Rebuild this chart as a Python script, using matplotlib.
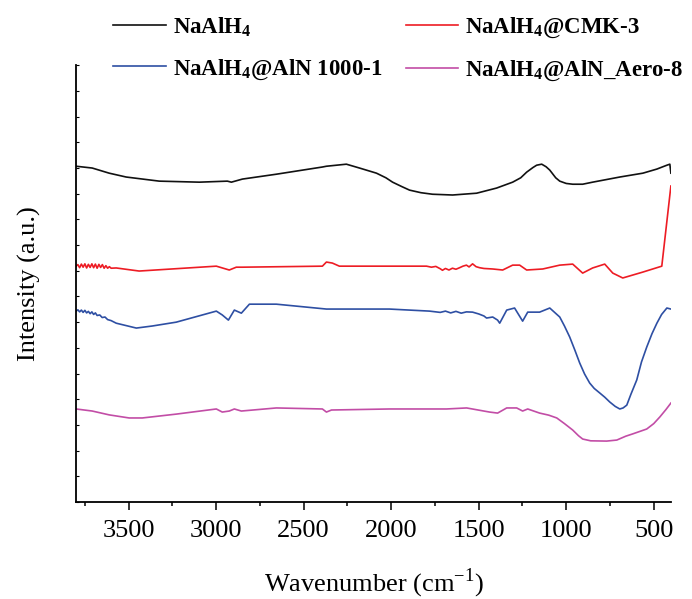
import numpy as np
import matplotlib
matplotlib.use("Agg")
import matplotlib.pyplot as plt
from matplotlib.ticker import MultipleLocator

# FTIR spectra, values (intensity in a.u., offset per trace)
wn_naalh4 = [3800, 3708, 3611, 3514, 3325, 3096, 2936, 2913, 2850, 2656, 2393, 2370,
             2256, 2181, 2084, 2030, 1992, 1940, 1895, 1830, 1764, 1649, 1512, 1398,
             1306, 1260, 1226, 1190, 1169, 1140, 1115, 1094, 1060, 1037, 1000, 963,
             906, 849, 694, 562, 482, 425, 408, 402]
int_naalh4 = [13.07, 13.00, 12.80, 12.65, 12.49, 12.45, 12.49, 12.45, 12.57, 12.76,
              13.04, 13.07, 13.15, 13.00, 12.80, 12.62, 12.45, 12.28, 12.14, 12.04,
              11.98, 11.95, 12.02, 12.22, 12.45, 12.62, 12.84, 13.02, 13.11, 13.15,
              13.05, 12.92, 12.62, 12.49, 12.40, 12.37, 12.37, 12.45, 12.65, 12.80,
              12.96, 13.11, 13.15, 12.80]

wn_cmk3 = [3800, 3790, 3780, 3770, 3760, 3750, 3740, 3730, 3720, 3710, 3700, 3690,
           3680, 3670, 3660, 3650, 3640, 3630, 3620, 3610, 3600, 3571, 3440, 2999,
           2925, 2885, 2850, 2393, 2370, 2336, 2296, 1798, 1770, 1745, 1720, 1707,
           1690, 1670, 1650, 1630, 1609, 1590, 1570, 1555, 1535, 1515, 1495, 1470,
           1420, 1363, 1306, 1266, 1226, 1134, 1037, 963, 906, 849, 780, 734, 677,
           562, 454, 402]
int_cmk3 = [9.18, 9.24, 9.12, 9.26, 9.14, 9.27, 9.11, 9.25, 9.13, 9.27, 9.12, 9.26,
            9.10, 9.25, 9.13, 9.24, 9.10, 9.20, 9.10, 9.16, 9.10, 9.11, 8.99, 9.18,
            9.03, 9.14, 9.14, 9.18, 9.34, 9.30, 9.18, 9.18, 9.14, 9.17, 9.08, 9.02,
            9.09, 9.03, 9.10, 9.06, 9.12, 9.18, 9.22, 9.15, 9.27, 9.16, 9.12, 9.09,
            9.07, 9.03, 9.22, 9.22, 9.03, 9.07, 9.22, 9.26, 8.91, 9.11, 9.26, 8.91,
            8.72, 8.95, 9.18, 12.30]

wn_aln1000 = [3800, 3790, 3780, 3770, 3760, 3750, 3740, 3730, 3720, 3710, 3700, 3690,
              3680, 3665, 3651, 3635, 3620, 3600, 3571, 3456, 3365, 3228, 2999, 2965,
              2930, 2896, 2856, 2810, 2656, 2370, 2010, 1781, 1720, 1690, 1660, 1630,
              1600, 1570, 1535, 1500, 1470, 1455, 1420, 1392, 1380, 1340, 1295, 1249,
              1220, 1152, 1094, 1037, 1010, 980, 950, 923, 895, 866, 840, 808, 780,
              751, 720, 694, 675, 654, 630, 597, 570, 540, 510, 482, 455, 425, 402]
int_aln1000 = [7.43, 7.48, 7.40, 7.47, 7.38, 7.46, 7.36, 7.42, 7.33, 7.40, 7.30, 7.36,
               7.26, 7.28, 7.18, 7.20, 7.10, 7.06, 6.96, 6.77, 6.85, 7.00, 7.43, 7.28,
               7.08, 7.47, 7.35, 7.70, 7.70, 7.51, 7.51, 7.43, 7.38, 7.43, 7.36, 7.42,
               7.35, 7.40, 7.39, 7.32, 7.24, 7.16, 7.20, 7.08, 6.96, 7.47, 7.55, 7.04,
               7.39, 7.39, 7.55, 7.20, 6.85, 6.42, 5.90, 5.41, 4.98, 4.63, 4.42, 4.24,
               4.08, 3.89, 3.72, 3.62, 3.66, 3.77, 4.20, 4.75, 5.45, 6.03, 6.55, 6.96,
               7.30, 7.55, 7.51]

wn_aero8 = [3800, 3708, 3611, 3497, 3422, 3228, 2999, 2965, 2925, 2896, 2856, 2656,
            2393, 2370, 2341, 2010, 1684, 1569, 1438, 1392, 1340, 1283, 1249, 1220,
            1152, 1100, 1054, 1010, 963, 930, 906, 860, 769, 711, 660, 620, 540, 500,
            465, 430, 402]
int_aero8 = [3.62, 3.54, 3.39, 3.27, 3.27, 3.42, 3.62, 3.50, 3.54, 3.62, 3.54, 3.66,
             3.62, 3.50, 3.58, 3.62, 3.62, 3.66, 3.50, 3.46, 3.66, 3.66, 3.54, 3.62,
             3.46, 3.38, 3.27, 3.05, 2.80, 2.58, 2.45, 2.38, 2.37, 2.41, 2.56, 2.65,
             2.84, 3.05, 3.31, 3.60, 3.85]

labels = [r'NaAlH$_\mathbf{4}$', r'NaAlH$_\mathbf{4}$@CMK-3',
          r'NaAlH$_\mathbf{4}$@AlN 1000-1', r'NaAlH$_\mathbf{4}$@AlN_Aero-8']
colors = ['#111111', '#ED1C24', '#2E4FA3', '#C24DA6']

plt.rcParams['font.family'] = 'Liberation Serif'
plt.rcParams['mathtext.fontset'] = 'custom'
plt.rcParams['mathtext.rm'] = 'Liberation Serif'
plt.rcParams['mathtext.bf'] = 'Liberation Serif:bold'


def main():
    fig = plt.figure(figsize=(6.92, 5.99), dpi=100)
    ax = fig.add_axes([0.110, 0.162, 0.860, 0.729])

    series = [(wn_naalh4, int_naalh4), (wn_cmk3, int_cmk3),
              (wn_aln1000, int_aln1000), (wn_aero8, int_aero8)]
    lines = []
    for (x, y), lab, c in zip(series, labels, colors):
        ln, = ax.plot(x, y, color=c, lw=1.2, label=lab)
        lines.append(ln)

    ax.set_xlim(3800, 400)
    ax.set_ylim(0, 17)
    ax.xaxis.set_major_locator(MultipleLocator(500))
    ax.xaxis.set_minor_locator(MultipleLocator(250))
    ax.set_yticks(np.arange(0, 18))
    ax.set_yticklabels([])
    ax.tick_params(axis='x', which='major', direction='out', length=6, width=1.1,
                   labelsize=19, pad=7)
    ax.tick_params(axis='x', which='minor', direction='out', length=3, width=1.1)
    ax.tick_params(axis='y', which='major', direction='in', length=2.5, width=0.8)
    for s in ['top', 'right']:
        ax.spines[s].set_visible(False)
    for s in ['left', 'bottom']:
        ax.spines[s].set_linewidth(1.3)

    ax.set_xlabel(r'Wavenumber (cm$^{-1}$)', fontsize=19, labelpad=18)
    ax.set_ylabel('Intensity (a.u.)', fontsize=19, labelpad=22)

    order = [0, 2, 1, 3]
    fig.legend([lines[i] for i in order], [labels[i] for i in order], ncol=2,
               loc='upper left', bbox_to_anchor=(0.164, 0.975), frameon=False,
               prop={'weight': 'bold', 'size': 16.5}, handlelength=2.3,
               handletextpad=0.3, columnspacing=1.0, labelspacing=0.8,
               borderpad=0, borderaxespad=0)

    fig.savefig('out.png', dpi=100)


if __name__ == "__main__":
    main()
